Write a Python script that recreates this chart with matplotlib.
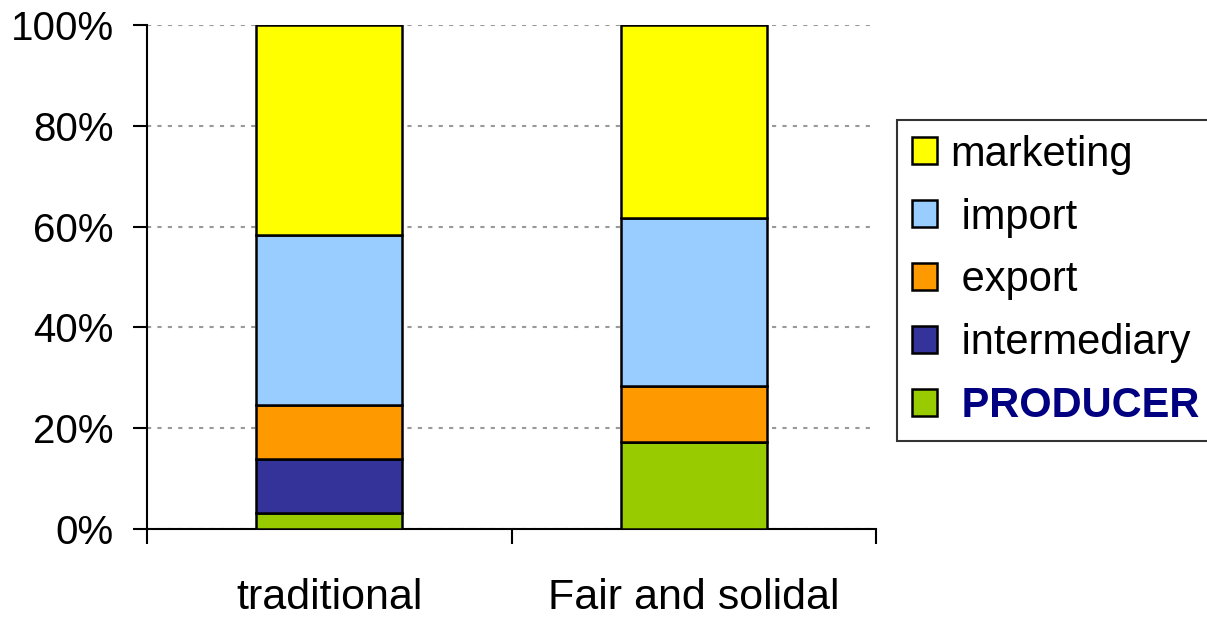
import numpy as np
import matplotlib
matplotlib.use('Agg')
import matplotlib.pyplot as plt

plt.rcParams.update({'font.family': ['Liberation Sans', 'DejaVu Sans'], 'font.size': 29})

# Datos (porcentaje de cada eslabon en el precio final)
categories = ['traditional', 'Fair and solidal']
series = ['PRODUCER', 'intermediary', 'export', 'import', 'marketing']
producer     = [3.2, 17.3]
intermediary = [10.7, 0.0]
export       = [10.7, 11.1]
import_      = [33.7, 33.3]
marketing    = [41.7, 38.3]
values = [producer, intermediary, export, import_, marketing]

colors = ['#99CC00', '#333399', '#FF9900', '#99CCFF', '#FFFF00']
legend_labels = [' PRODUCER', ' intermediary', ' export', ' import', 'marketing']

fig = plt.figure(figsize=(12.07, 6.17), dpi=100)
ax = fig.add_axes([147 / 1207, 1 - 529 / 617, 729 / 1207, 504 / 617])

x = np.arange(len(categories))
bottom = np.zeros(len(categories))
bars = []
for vals, col in zip(values, colors):
    b = ax.bar(x, vals, 0.4, bottom=bottom, color=col, edgecolor='black', linewidth=1.8, zorder=3)
    bars.append(b)
    bottom += np.array(vals)

ax.set_xlim(-0.5, 1.5)
ax.set_ylim(0, 100)
ax.set_yticks(np.arange(0, 101, 20))
ax.set_yticklabels([f'{v}%' for v in range(0, 101, 20)], fontsize=29)
ax.yaxis.grid(True, color='#999999', linestyle=(0, (2, 3)), linewidth=1.5, zorder=0)

ax.set_xticks(x)
ax.set_xticklabels(categories, fontsize=31)
ax.set_xticks([-0.5, 0.5, 1.5], minor=True)
ax.tick_params(axis='x', which='major', length=0, pad=35)
ax.tick_params(axis='x', which='minor', length=11, width=1.5, direction='out')
ax.tick_params(axis='y', length=10, width=1.5, direction='out', pad=14)

for s in ['top', 'right']:
    ax.spines[s].set_visible(False)
for s in ['left', 'bottom']:
    ax.spines[s].set_linewidth(1.5)

# Leyenda en orden inverso (marketing arriba)
leg = fig.legend([bars[i] for i in range(4, -1, -1)], [legend_labels[i] for i in range(4, -1, -1)],
                 loc='upper left', bbox_to_anchor=(897 / 1207, 1 - 120 / 617),
                 frameon=True, fancybox=False, edgecolor='black', fontsize=30,
                 handlelength=0.62, handleheight=0.62, handletextpad=0.3,
                 labelspacing=0.55, borderpad=0.35, borderaxespad=0)
leg.get_frame().set_linewidth(1.5)
for t in leg.get_texts():
    if t.get_text().strip() == 'PRODUCER':
        t.set_color('#000080')
        t.set_fontweight('bold')

fig.savefig('out.png', dpi=100)
